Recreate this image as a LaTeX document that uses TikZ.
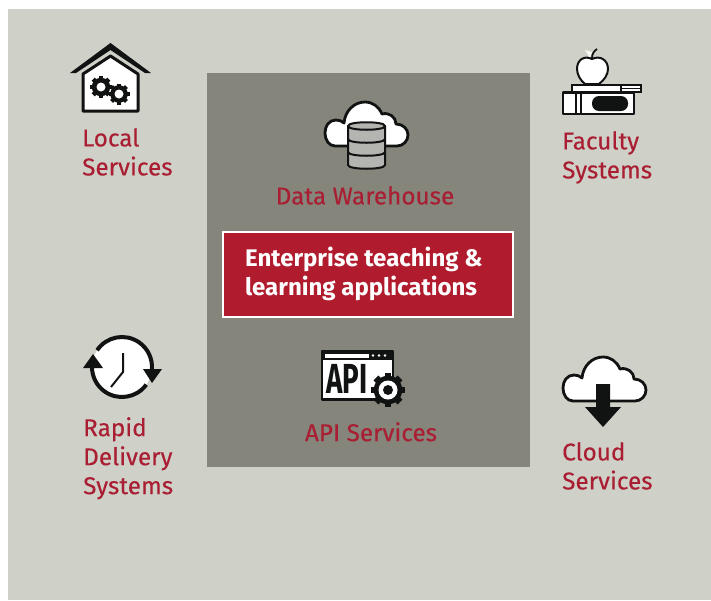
\documentclass[tikz,border=0pt]{standalone}
\usepackage{fontspec}
\setmainfont{Fira Sans}
\newfontfamily\servicefont[FakeBold=0.25]{Fira Sans}
\definecolor{panelbg}{HTML}{CFD0C8}
\definecolor{centerbg}{HTML}{85857B}
\definecolor{crimson}{HTML}{A91E32}
\definecolor{boxred}{HTML}{B01C2E}
\definecolor{inkblack}{HTML}{111312}
\definecolor{drumgrey}{HTML}{B4B5B1}
\tikzset{
  service/.style={anchor=north west, inner sep=0pt, align=left, text=crimson, font=\servicefont\fontsize{24.3}{29}\selectfont},
  icon/.style={draw=inkblack, line width=2.8pt, fill=white, line join=round},
}
% x y outer radius
\newcommand{\gearicon}[3]{
  \foreach \ang in {0,45,...,315}
    \fill[inkblack, shift={(#1,#2)}, rotate=\ang] (-0.2*#3,0) rectangle (0.2*#3,#3);
  \fill[inkblack] (#1,#2) circle (0.84*#3);
}
% outline of a cloud, 83 wide and 44 high
\newcommand{\cloudicon}[2]{
  \draw[icon, shift={(#1,#2)}] (10,44) .. controls (4,44) and (0,38) .. (0,31)
    .. controls (0,24) and (4,18) .. (11,18) .. controls (14,18) and (17,19) .. (19,21)
    .. controls (20,9) and (29,0) .. (40,0) .. controls (48,0) and (54,5) .. (57,12)
    .. controls (64,10) and (71,15) .. (71,22) .. controls (78,22) and (83,27) .. (83,33)
    .. controls (83,39) and (78,44) .. (72,44) -- cycle;
}
\begin{document}
\begin{tikzpicture}[x=1pt, y=-1pt]
    \useasboundingbox (0,0) rectangle (711,600);
    \fill[panelbg] (8,9) rectangle (711,600);
    \fill[centerbg] (207,73) rectangle (530,467);

    % local services
    \fill[inkblack] (70,73) -- (110.5,43) -- (151,73) -- (145,73) -- (110.5,50) -- (76,73) -- cycle;
    \draw[icon, line width=3pt] (83,74) -- (110.5,56) -- (138,74) -- (138,111) -- (83,111) -- cycle;
    \gearicon{101}{87}{11}
    \fill[white] (101,87) circle (4.5);
    \gearicon{119}{94}{10.5}
    \fill[white] (119,94) circle (4.5);
    \node[service] (local) at (82,128) {Local\\Services};

    % faculty systems
    \fill[white!85!panelbg] (585,50) -- (592,52) -- (590,58) -- cycle;
    \draw[inkblack, line width=1.8pt] (592,58) .. controls (592,54) and (594,51) .. (597,49);
    \draw[icon, line width=2pt] (592,59) .. controls (584,55) and (577,60) .. (577,69)
      .. controls (577,75) and (581,81) .. (585,84) -- (599,84)
      .. controls (604,80) and (608,75) .. (608,69) .. controls (608,60) and (600,55) .. (592,59) -- cycle;
    \fill[inkblack] (571,84) rectangle (642,93);
    \fill[white] (573,86) rectangle (620,91);
    \fill[white] (622,86.3) rectangle (640,87.8);
    \fill[white] (622,89.3) rectangle (640,90.8);
    \draw[icon, line width=2.4pt] (563,92.5) rectangle (634,114);
    \fill[inkblack] (575,92) rectangle (577,114);
    \fill[inkblack] (579.5,92) rectangle (581.5,114);
    \fill[inkblack, rounded corners=7pt] (592,96) rectangle (628,111);
    \node[service] (faculty) at (562,131) {Faculty\\Systems};

    % data warehouse
    \cloudicon{325}{102}
    \draw[icon, fill=drumgrey, line width=2pt] (348,126) -- (348,165) .. controls (348,170) and (385,170) .. (385,165) -- (385,126)
      .. controls (385,121) and (348,121) .. (348,126) -- cycle;
    \draw[inkblack, line width=2pt] (348,126) .. controls (348,131) and (385,131) .. (385,126);
    \draw[inkblack, line width=2pt] (348,139) .. controls (348,144) and (385,144) .. (385,139);
    \draw[inkblack, line width=2pt] (348,152) .. controls (348,157) and (385,157) .. (385,152);
    \node[service, anchor=north] (warehouse) at (365,186) {Data Warehouse};

    % central box
    \node[draw=white, line width=2pt, fill=boxred, minimum width=290pt, minimum height=85pt, inner sep=0pt] (apps) at (367.5,274) {};
    \node[anchor=north west, inner sep=0pt, align=left, text=white, font=\fontsize{24}{29}\selectfont\bfseries] (appstext) at (245,247) {Enterprise teaching \&\\learning applications};

    % api services
    \draw[icon, line width=2.6pt] (322,351) rectangle (393,399.5);
    \fill[inkblack] (322,351) rectangle (393,360);
    \fill[white] (325,353.5) rectangle (369,357.5);
    \foreach \dotx in {373,379,385}
      \fill[white] (\dotx,355.5) circle (1.4);
    \node[inner sep=0pt, text=inkblack, font=\fontsize{42}{42}\selectfont\bfseries, xscale=0.66, transform shape] (apiword) at (347,379) {API};
    \gearicon{388}{390}{17}
    \fill[white] (388,390) circle (9.5);
    \fill[inkblack] (388,390) circle (5);
    \node[service, anchor=north] (api) at (371,422) {API Services};

    % rapid delivery systems
    \fill[white] (122,367) circle (30);
    \draw[inkblack, line width=4pt] (122,367) ++(214:30) arc[start angle=214, end angle=366, radius=30];
    \draw[inkblack, line width=4pt] (122,367) ++(36:30) arc[start angle=36, end angle=180, radius=30];
    \fill[inkblack] (143,369) -- (162,369) -- (152,383) -- cycle;
    \fill[inkblack] (83,368) -- (103,368) -- (93,354) -- cycle;
    \draw[inkblack, line width=2pt] (123,353) -- (123,372) -- (111,387);
    \node[service] (rapid) at (83,417) {Rapid\\Delivery\\Systems};

    % cloud services
    \cloudicon{563}{357}
    \fill[inkblack] (596,384) -- (610,384) -- (610,407) -- (621,407) -- (603,427) -- (585,407) -- (596,407) -- cycle;
    \node[service] (cloud) at (562,442) {Cloud\\Services};
\end{tikzpicture}
\end{document}
